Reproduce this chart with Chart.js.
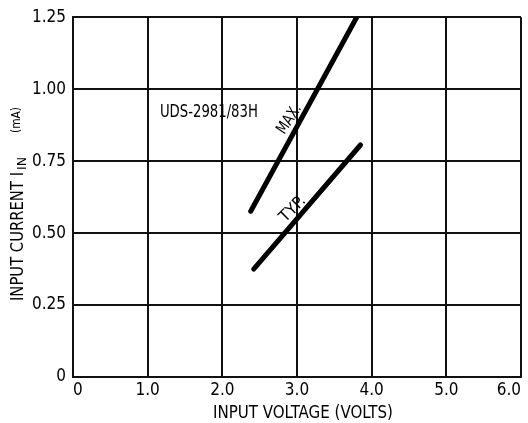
<!DOCTYPE html>
<html><head><meta charset="utf-8">
<script src="https://cdn.jsdelivr.net/npm/chart.js@4.4.0/dist/chart.umd.min.js"></script>
<style>html,body{margin:0;padding:0;background:#fff;}#wrap{width:528px;height:423px;}</style>
</head><body><div id="wrap"><canvas id="c" width="528" height="423"></canvas></div>
<script>
// ---- data ----
const seriesNames = ['MAX.', 'TYP.'];
const maxVolts = [2.38, 3.80];
const maxCurrent = [0.576, 1.25];
const typVolts = [2.42, 3.85];
const typCurrent = [0.375, 0.806];
const xTickLabels = ['0', '1.0', '2.0', '3.0', '4.0', '5.0', '6.0'];
const yTickLabels = ['0', '0.25', '0.50', '0.75', '1.00', '1.25'];
const xTitle = 'INPUT VOLTAGE (VOLTS)';
const yTitleMain = 'INPUT CURRENT I';
const yTitleSub = 'IN';
const yTitleUnit = '(mA)';
const partLabel = 'UDS-2981/83H';

// ---- styling ----
const FONT = "'Liberation Sans Narrow', 'DejaVu Sans Condensed', 'Liberation Sans', sans-serif";
const INK = '#000';

function pts(xs, ys) { return xs.map((v, i) => ({x: v, y: ys[i]})); }

// draw text squeezed horizontally to a target width (the reference uses a narrow typeface)
function fitText(ctx, text, px, py, targetW, deg) {
  const w = ctx.measureText(text).width || 1;
  ctx.save();
  ctx.translate(px, py);
  ctx.rotate(deg * Math.PI / 180);
  ctx.scale(Math.min(1.15, targetW / w), 1);
  ctx.fillText(text, 0, 0);
  ctx.restore();
}

const textPlugin = {
  id: 'texts',
  beforeDraw(chart) {
    const ctx = chart.ctx;
    ctx.save(); ctx.fillStyle = '#fff'; ctx.fillRect(0, 0, chart.width, chart.height); ctx.restore();
  },
  afterDraw(chart) {
    const {ctx, scales: {x, y}} = chart;
    ctx.save();
    ctx.fillStyle = INK;
    ctx.textAlign = 'center';
    ctx.textBaseline = 'middle';
    // part number label
    ctx.font = `18px ${FONT}`;
    fitText(ctx, partLabel, x.getPixelForValue(1.82), y.getPixelForValue(0.921), 98, 0);
    // series labels along the lines
    ctx.font = `16px ${FONT}`;
    fitText(ctx, seriesNames[0], x.getPixelForValue(2.90), y.getPixelForValue(0.895), 32, -57);
    fitText(ctx, seriesNames[1], x.getPixelForValue(2.946), y.getPixelForValue(0.583), 30, -45);
    // x title
    ctx.font = `18px ${FONT}`;
    fitText(ctx, xTitle, x.getPixelForValue(3.08), 413, 180, 0);
    // y title (rotated, with subscript)
    ctx.save();
    ctx.translate(23, 301);
    ctx.rotate(-Math.PI / 2);
    ctx.textAlign = 'left';
    ctx.textBaseline = 'alphabetic';
    ctx.font = `18px ${FONT}`;
    fitText(ctx, yTitleMain, 0, 0, 129, 0);
    ctx.font = `12px ${FONT}`;
    fitText(ctx, yTitleSub, 131, 3, 13, 0);
    ctx.font = `13px ${FONT}`;
    fitText(ctx, yTitleUnit, 168, -3, 26, 0);
    ctx.restore();
    ctx.restore();
  }
};

const lineStyle = {borderColor: '#000', borderWidth: 5, pointRadius: 0, showLine: true, borderCapStyle: 'round', fill: false, tension: 0};

new Chart(document.getElementById('c'), {
  type: 'scatter',
  data: {
    datasets: [
      Object.assign({label: seriesNames[0], data: pts(maxVolts, maxCurrent)}, lineStyle),
      Object.assign({label: seriesNames[1], data: pts(typVolts, typCurrent)}, lineStyle)
    ]
  },
  options: {
    responsive: false,
    animation: false,
    devicePixelRatio: 1,
    layout: {padding: {top: 14, right: 7, left: 0, bottom: 0}},
    plugins: {legend: {display: false}, tooltip: {enabled: false}},
    scales: {
      x: {
        type: 'linear', min: 0, max: 6,
        afterBuildTicks(s) { s.ticks = xTickLabels.map((_, i) => ({value: i})); },
        afterFit(s) { s.height = 46; s.paddingLeft = 0; s.paddingRight = 0; },
        ticks: {
          align: 'inner', padding: 3, color: INK, maxRotation: 0, autoSkip: false,
          font: {family: FONT, size: 17},
          callback: (v, i) => xTickLabels[i]
        },
        grid: {color: '#111', lineWidth: 2, drawTicks: false},
        border: {color: '#111', width: 2}
      },
      y: {
        type: 'linear', min: 0, max: 1.25,
        afterBuildTicks(s) { s.ticks = yTickLabels.map((_, i) => ({value: i * 0.25})); },
        afterFit(s) { s.width = 73; },
        ticks: {
          padding: 7, color: INK, autoSkip: false,
          font: {family: FONT, size: 17},
          callback: (v, i) => yTickLabels[i]
        },
        grid: {color: '#111', lineWidth: 2, drawTicks: false},
        border: {color: '#111', width: 2}
      }
    }
  },
  plugins: [textPlugin]
});
</script>
</body></html>
